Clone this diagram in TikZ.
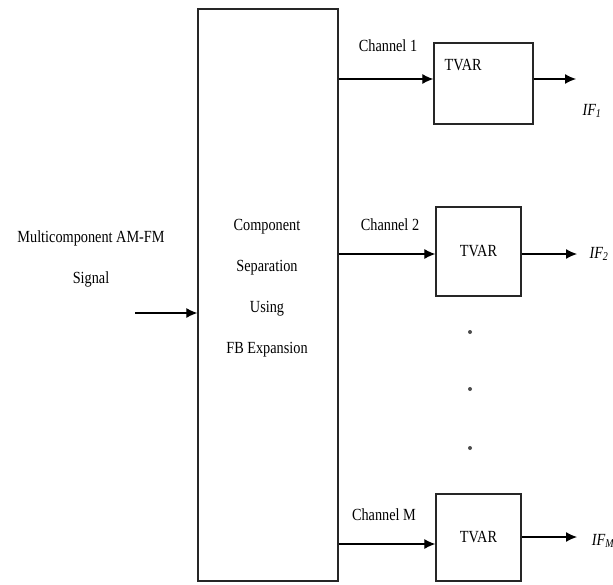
\documentclass[tikz,border=0pt]{standalone}
\usepackage{fontspec}
\setmainfont{Liberation Serif}[FakeStretch=0.84]
\usepackage{tikz}
\usetikzlibrary{arrows.meta,positioning}

\tikzset{
  blk/.style={draw=black!85, line width=1.3pt, inner sep=0pt},
  sig/.style={-{Latex[length=11pt,width=10pt]}, line width=1.2pt},
  txt/.style={font=\fontsize{17}{41}\selectfont, inner sep=0pt, align=center},
}

\begin{document}
\begin{tikzpicture}[x=1pt, y=-1pt]
  \useasboundingbox (0,0) rectangle (613,584);

  % Input signal
  \node[txt] (insig) at (91,259) {Multicomponent AM-FM\\Signal};
  \coordinate (in) at (135,313);

  % Separation block
  \node[blk, minimum width=140pt, minimum height=572pt] (fb) at (268,295) {};
  \node[txt] (fbtext) at (267,288) {Component\\Separation\\Using\\FB Expansion};

  % TVAR blocks
  \node[blk, minimum width=99pt, minimum height=81pt] (tvar1) at (483.5,83.5) {};
  \node[txt, anchor=west] (tvar1txt) at ([xshift=11pt, yshift=-23pt]tvar1.north west) {TVAR};
  \node[blk, txt, minimum width=85pt, minimum height=89pt] (tvar2) at (478.5,251.5) {TVAR};
  \node[blk, txt, minimum width=85pt, minimum height=87pt] (tvarM) at (478.5,537.5) {TVAR};

  % Channel labels
  \node[txt] (ch1) at (388,46) {Channel 1};
  \node[txt] (ch2) at (390,225) {Channel 2};
  \node[txt] (chM) at (384,515) {Channel M};

  % Outputs
  \coordinate (out1) at (576,79);
  \coordinate (out2) at (577,254);
  \coordinate (outM) at (577,537);
  \node[txt] (if1) at (592,111) {\itshape IF\textsubscript{1}};
  \node[txt] (if2) at (599,254) {\itshape IF\textsubscript{2}};
  \node[txt] (ifM) at (603,541) {\itshape IF\textsubscript{M}};

  % Connectors
  \draw[sig] (in) -- (in -| fb.west);
  \draw[sig] ([yshift=4.5pt]fb.east |- tvar1.west) -- ([yshift=4.5pt]tvar1.west);
  \draw[sig] ([yshift=-2.5pt]fb.east |- tvar2.west) -- ([yshift=-2.5pt]tvar2.west);
  \draw[sig] ([yshift=-6.5pt]fb.east |- tvarM.west) -- ([yshift=-6.5pt]tvarM.west);
  \draw[sig] (tvar1.east |- out1) -- (out1);
  \draw[sig] (tvar2.east |- out2) -- (out2);
  \draw[sig] (tvarM.east |- outM) -- (outM);

  % Dots
  \foreach \y in {332,389,448}
    \fill[black!70] (470,\y) circle (2pt);
\end{tikzpicture}
\end{document}
